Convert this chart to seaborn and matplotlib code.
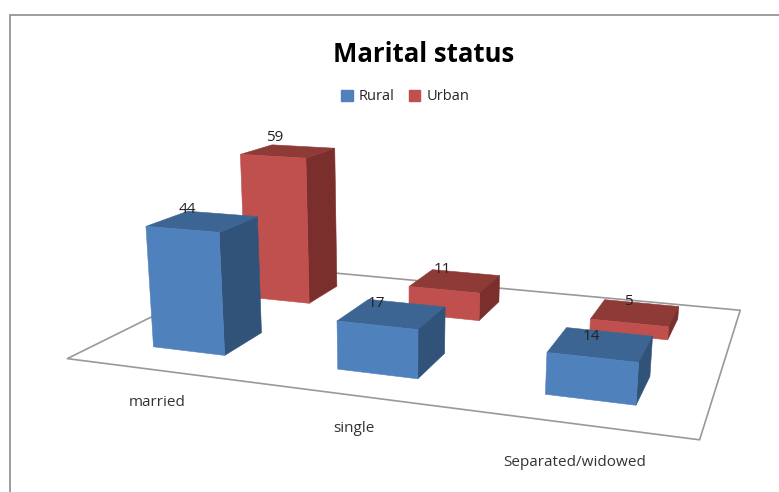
import numpy as np
import matplotlib
matplotlib.use("Agg")
import matplotlib.pyplot as plt
from matplotlib.patches import Patch, Rectangle
from mpl_toolkits.mplot3d.art3d import Poly3DCollection
import seaborn as sns

categories = ["married", "single", "Separated/widowed"]
series = ["Rural", "Urban"]
rural = [44, 17, 14]
urban = [59, 11, 5]

# camera matrix for the tilted floor: (category, series, value) -> pixel
P = np.array([
    [170.25857785909287, 134.14441173419937, -0.27958628380106665, 66.82417465896246],
    [1.6166207503101528, -4.36968565850699, -2.9792727895634794, 358.1108926307625],
    [-0.057935393847447204, 0.15865484577010502, -0.0007034939488313001, 1.0],
])

sns.set_theme(style="white")
plt.rcParams["font.family"] = ["Open Sans", "DejaVu Sans"]

faces = {
    "Rural": ["#4f81bd", "#3d6594", "#325379"],
    "Urban": ["#c0504d", "#8e3a37", "#7a2f2d"],
}
none = (0, 0, 0, 0)

fig = plt.figure(figsize=(7.79, 4.92), dpi=100)
# apply_aspect keeps 3d axes square, so make the square as wide as the figure
ax = fig.add_axes([0, -143.5 / 492, 1, 779 / 492], projection="3d")
ax.set_axis_off()
ax.computed_zorder = False
M = np.vstack([P[0], P[1], [0, 0, 0, -1], P[2]])
ax.get_proj = lambda: M
ax.viewLim.intervalx = (0, 779)
ax.viewLim.intervaly = (635.5, -143.5)


def label(x, y, z, s, **kw):
    # plain 2d text at the projected point
    u, v, w = P @ [x, y, z, 1]
    ax.text2D(u / w, v / w, s, transform=ax.transData, ha="center", va="center", fontsize=11, **kw)


floor = [[(0, 0, 0), (len(categories), 0, 0), (len(categories), len(series), 0), (0, len(series), 0)]]
ax.add_collection3d(Poly3DCollection(floor, facecolor="white", edgecolor="#999999", linewidth=1.2))

# where the value labels sit relative to each bar's back left corner
label_shift = {"Rural": [0, 0.04, 0.12], "Urban": [0.02, 0.06, 0.13]}
label_lift = {"Rural": [0.8, -1.3, -2.4], "Urban": [3.25, 0.5, 0.1]}
for s, (name, vals) in reversed(list(enumerate(zip(series, [rural, urban])))):
    front, top, side = faces[name]
    for i, v in enumerate(vals):
        cols = [none, top, front, none, none, side]
        ax.bar3d(i + 0.3, s + 0.3, 0, 0.4, 0.4, v, color=cols, shade=False, edgecolor=cols, linewidth=0.4)
        label(i + 0.3 + label_shift[name][i], s + 0.7, v + label_lift[name][i], str(v), color="#222222", zorder=5)

category_x = [0.737, 1.655, 2.58]
category_y = [-0.385, -0.365, -0.4]
for x, y, c in zip(category_x, category_y, categories):
    label(x, y, 0, c, color="#333333")

fig.text(424 / 779, 1 - 55 / 492, "Marital status", ha="center", va="center", fontsize=18.5, fontweight="bold", color="black")
handles = [Patch(color=faces[n][0], label=n) for n in series]
fig.legend(handles=handles, loc="center", bbox_to_anchor=(405 / 779, 1 - 97 / 492), ncol=2, frameon=False,
           fontsize=10.5, handlelength=0.8, handleheight=0.8, columnspacing=1.0, handletextpad=0.4)
fig.add_artist(Rectangle((9.5 / 779, -0.1), 1, 1 - 14.5 / 492 + 0.1, transform=fig.transFigure,
                         facecolor="none", edgecolor="#8c8c8c", linewidth=1.2))

fig.savefig("out.png", dpi=100)
